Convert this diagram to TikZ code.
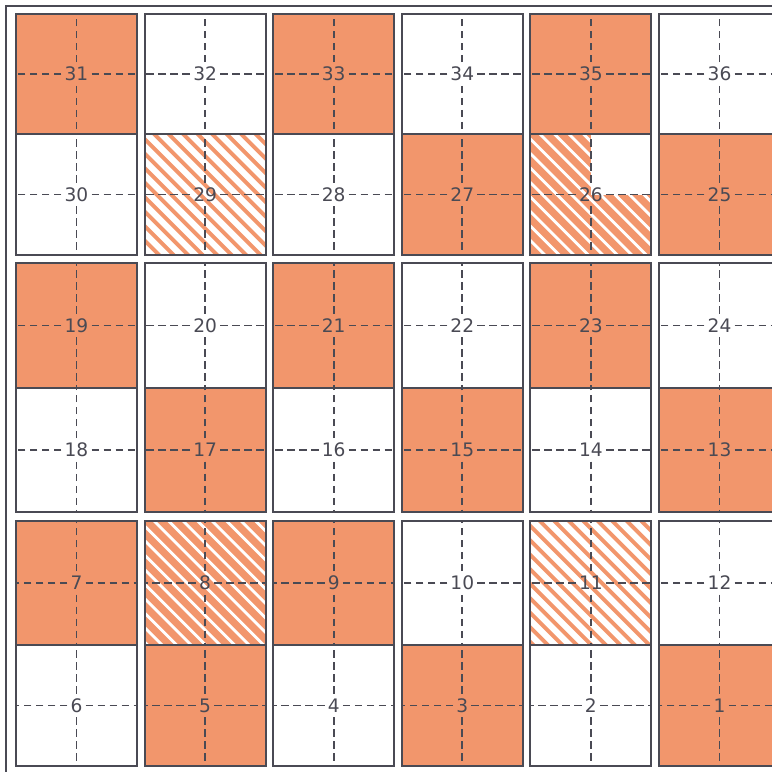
\documentclass[tikz,border=0pt]{standalone}
\usepackage{fontspec}
\setmainfont{DejaVu Sans}
\usetikzlibrary{calc}
\definecolor{org}{HTML}{F2966C}
\definecolor{ink}{HTML}{4A4A54}
\tikzset{
  cellline/.style={draw=ink,line width=1pt},
  frameline/.style={draw=ink,line width=0.9pt},
  guide/.style={draw=ink,line width=0.95pt,dash pattern=on 3.8pt off 2.2pt},
  lbl/.style={inner xsep=1.4pt,inner ysep=2.2pt,text=ink,font=\fontsize{9.3}{9.3}\selectfont},
  orgstripe/.style={draw=org,line width=2pt},
  whitestripe/.style={draw=white,line width=1.4pt},
}
\newcommand\stripesin[2]{%
  \begin{scope}
    \clip (a#1) rectangle (b#1);
    \foreach \s in {0,...,18}{
      \draw[#2] ($(a#1)+(-127+14.5*\s,-6)$) -- ++(145,145);
    }
  \end{scope}}
\begin{document}
\begin{tikzpicture}[x=0.5pt,y=-0.5pt]
\clip (0,0) rectangle (772,772);
\fill[white] (0,0) rectangle (772,772);
% cell corner coordinates
\foreach \r in {0,...,5}{
  \foreach \c in {0,...,5}{
    \pgfmathsetmacro\xa{16+128.6*\c}
    \pgfmathsetmacro\xb{\xa+121}
    \pgfmathsetmacro\ya{{14,134,263,388,521,645}[\r]}
    \pgfmathsetmacro\yb{{134,255,388,512,645,766}[\r]}
    \coordinate (a\r\c) at (\xa,\ya);
    \coordinate (b\r\c) at (\xb,\yb);
  }
}
% outer frame
\draw[frameline] (6,6) rectangle (800,800);
% solid orange cells
\foreach \k in {00,02,04,13,14,15,20,22,24,31,33,35,40,41,42,51,53,55}{
  \fill[org] (a\k) rectangle (b\k);
}
% white stripes on orange (8 and 26)
\stripesin{41}{whitestripe}
\stripesin{14}{whitestripe}
% white quarter of 26
\fill[white] ($(a14)!0.5!(a14 -| b14)$) rectangle ($(b14 |- a14)!0.5!(b14)$);
% orange stripes on white (29 and 11)
\stripesin{11}{orgstripe}
\stripesin{44}{orgstripe}
% borders, labels, guide lines
\foreach \r in {0,...,5}{
  \foreach \c in {0,...,5}{
    \pgfmathtruncatemacro\blk{int(\r/2)}
    \pgfmathtruncatemacro\half{\r-2*\blk}
    \pgfmathtruncatemacro\num{\half==0 ? 31-12*\blk+\c : 30-12*\blk-\c}
    \draw[cellline] (a\r\c) rectangle (b\r\c);
    \node[lbl] (l\r\c) at ($(a\r\c)!0.5!(b\r\c)$) {\num};
    \draw[guide] (l\r\c.west) -- (a\r\c |- l\r\c.west);
    \draw[guide] (l\r\c.east) -- (b\r\c |- l\r\c.east);
    \draw[guide] (l\r\c.north) -- (l\r\c.north |- a\r\c);
    \draw[guide] (l\r\c.south) -- (l\r\c.south |- b\r\c);
  }
}
\end{tikzpicture}
\end{document}
